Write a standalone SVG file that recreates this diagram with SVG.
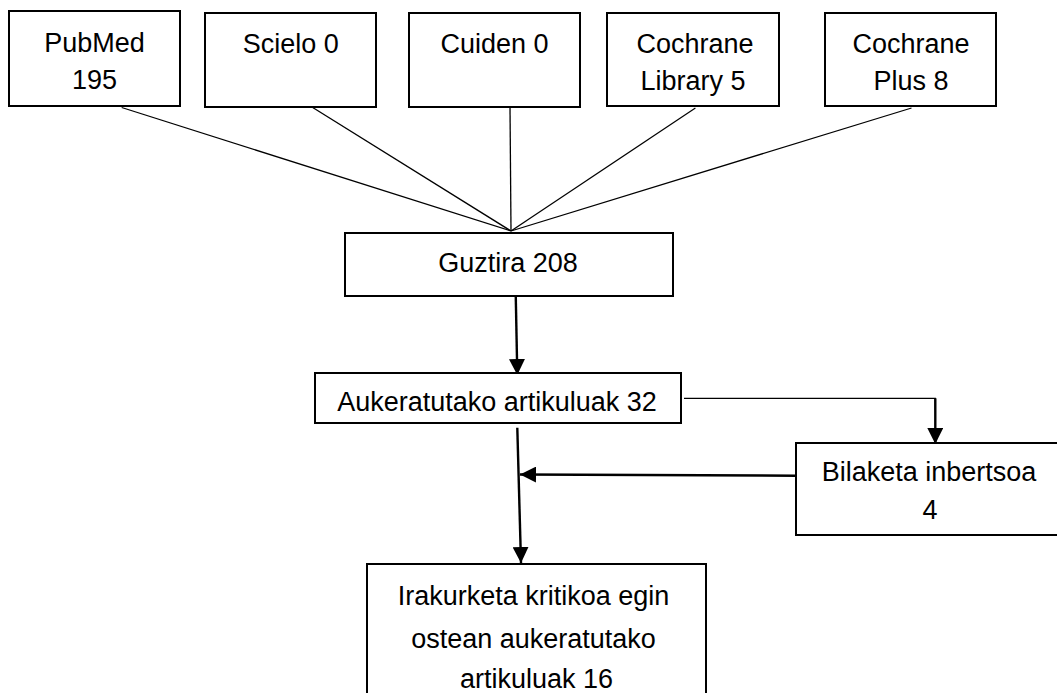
<svg xmlns="http://www.w3.org/2000/svg" width="1057" height="693" viewBox="0 0 1057 693">
<defs>
<style>
.box{fill:#fff;stroke:#000;stroke-width:2}
.t{font-family:"Liberation Sans",Arial,sans-serif;font-size:27px;fill:#000;text-anchor:middle}
.thin{stroke:#000;stroke-width:1.3;fill:none}
.thick{stroke:#000;stroke-width:2.4;fill:none}
</style>
<marker id="ah" viewBox="0 0 16 16" refX="16" refY="8" markerWidth="16" markerHeight="16" markerUnits="userSpaceOnUse" orient="auto">
<path d="M0,0 L16,8 L0,16 z" fill="#000"/>
</marker>
</defs>
<rect width="1057" height="693" fill="#fff"/>
<g id="connectors">
<line class="thin" x1="121.7" y1="107.5" x2="511" y2="231"/>
<line class="thin" x1="312.7" y1="107.5" x2="511" y2="231"/>
<line class="thin" x1="510" y1="107" x2="511" y2="231"/>
<line class="thin" x1="695.4" y1="108" x2="511" y2="231"/>
<line class="thin" x1="911.5" y1="108" x2="511" y2="231"/>
<line class="thick" x1="515.7" y1="293" x2="517.3" y2="375" marker-end="url(#ah)"/>
<polyline class="thin" points="684,398.3 935.3,398.3 935.3,410"/>
<line class="thick" x1="935.3" y1="398.3" x2="935.3" y2="444" marker-end="url(#ah)"/>
<line class="thick" x1="796" y1="475.7" x2="520" y2="474.5" marker-end="url(#ah)"/>
<line class="thick" x1="517.3" y1="427.7" x2="521" y2="563" marker-end="url(#ah)"/>
</g>
<g id="pubmed">
<rect class="box" x="9" y="11" width="171" height="95"/>
<text class="t" x="94.6" y="52">PubMed</text>
<text class="t" x="94.6" y="89">195</text>
</g>
<g id="scielo">
<rect class="box" x="205" y="13" width="171" height="94"/>
<text class="t" x="290.7" y="53">Scielo 0</text>
</g>
<g id="cuiden">
<rect class="box" x="409" y="13" width="171" height="94"/>
<text class="t" x="494.5" y="53">Cuiden 0</text>
</g>
<g id="cochrane-library">
<rect class="box" x="607" y="13" width="172" height="93"/>
<text class="t" x="695" y="53">Cochrane</text>
<text class="t" x="693" y="90">Library 5</text>
</g>
<g id="cochrane-plus">
<rect class="box" x="825" y="13" width="171" height="93"/>
<text class="t" x="911" y="53">Cochrane</text>
<text class="t" x="911" y="90">Plus 8</text>
</g>
<g id="guztira">
<rect class="box" x="345" y="233" width="328" height="63"/>
<text class="t" x="508" y="272">Guztira 208</text>
</g>
<g id="aukeratutako">
<rect class="box" x="315" y="373" width="366" height="50"/>
<text class="t" x="497" y="411">Aukeratutako artikuluak 32</text>
</g>
<g id="bilaketa">
<rect class="box" x="796" y="443" width="300" height="92"/>
<text class="t" x="929" y="481">Bilaketa inbertsoa</text>
<text class="t" x="930" y="519">4</text>
</g>
<g id="irakurketa">
<rect class="box" x="367" y="564" width="339" height="200"/>
<text class="t" x="533.5" y="605">Irakurketa kritikoa egin</text>
<text class="t" x="533.5" y="648">ostean aukeratutako</text>
<text class="t" x="536.5" y="688">artikuluak 16</text>
</g>
</svg>
